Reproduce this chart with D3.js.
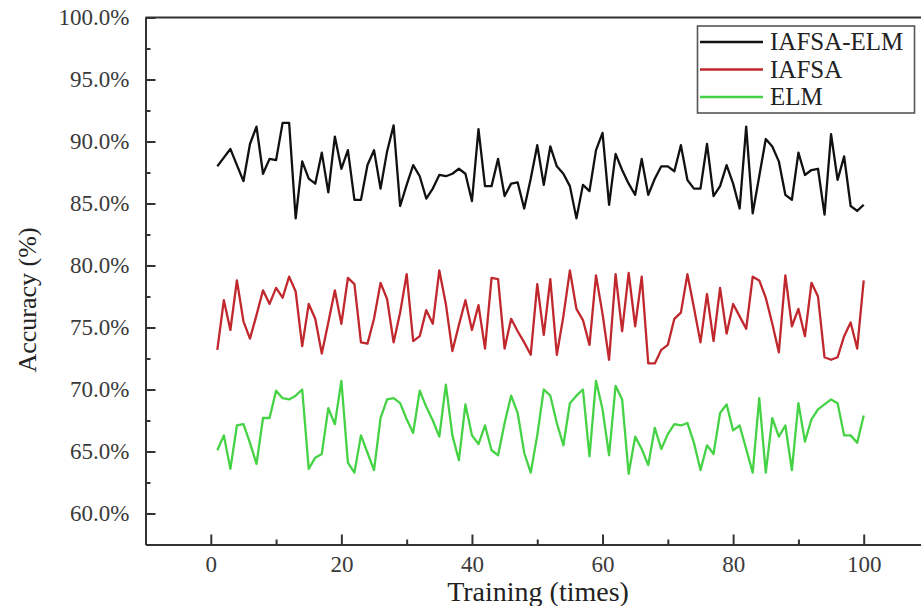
<!DOCTYPE html>
<html>
<head>
<meta charset="utf-8">
<script src="https://cdn.jsdelivr.net/npm/d3@7"></script>
<style>
  body { margin: 0; background: #fff; }
  svg { display: block; font-family: 'Liberation Serif', 'Times New Roman', serif; }
</style>
</head>
<body>
<svg id="chart" width="921" height="606"></svg>
<script>
// values, runs 1..100
const runs = d3.range(1, 101);

const iafsaElm = [
  88.0, 88.7, 89.4, 88.1, 86.8, 89.8, 91.2, 87.4, 88.6, 88.5,
  91.5, 91.5, 83.8, 88.4, 87.0, 86.6, 89.1, 85.9, 90.4, 87.8,
  89.3, 85.3, 85.3, 88.1, 89.3, 86.2, 89.2, 91.3, 84.8, 86.5,
  88.1, 87.2, 85.4, 86.2, 87.3, 87.2, 87.4, 87.8, 87.4, 85.2,
  91.0, 86.4, 86.4, 88.6, 85.6, 86.6, 86.7, 84.6, 87.0, 89.7,
  86.5, 89.6, 88.0, 87.4, 86.4, 83.8, 86.5, 86.0, 89.3, 90.7,
  84.9, 89.0, 87.7, 86.6, 85.7, 88.6, 85.7, 87.0, 88.0, 88.0,
  87.6, 89.7, 86.9, 86.2, 86.2, 89.8, 85.6, 86.4, 88.1, 86.6,
  84.6, 91.2, 84.2, 87.2, 90.2, 89.6, 88.4, 85.7, 85.3, 89.1,
  87.3, 87.7, 87.8, 84.1, 90.6, 86.9, 88.8, 84.8, 84.4, 84.9
];

const iafsa = [
  73.2, 77.2, 74.8, 78.8, 75.5, 74.1, 76.0, 78.0, 76.9, 78.2,
  77.4, 79.1, 77.9, 73.5, 76.9, 75.7, 72.9, 75.4, 78.0, 75.3,
  79.0, 78.5, 73.8, 73.7, 75.7, 78.6, 77.3, 73.8, 76.2, 79.3,
  73.9, 74.3, 76.4, 75.3, 79.6, 76.9, 73.1, 75.2, 77.2, 74.8,
  76.8, 73.3, 79.0, 78.9, 73.3, 75.7, 74.7, 73.8, 72.8, 78.5,
  74.4, 78.9, 72.8, 75.9, 79.6, 76.5, 75.6, 73.6, 79.2, 76.1,
  72.4, 79.3, 74.7, 79.4, 75.1, 79.1, 72.1, 72.1, 73.2, 73.6,
  75.7, 76.2, 79.3, 76.6, 73.8, 77.7, 73.9, 78.2, 74.5, 76.9,
  75.9, 74.9, 79.1, 78.8, 77.4, 75.3, 73.0, 79.2, 75.1, 76.5,
  74.3, 78.6, 77.5, 72.6, 72.4, 72.6, 74.3, 75.4, 73.3, 78.8
];

const elm = [
  65.1, 66.3, 63.6, 67.1, 67.2, 65.7, 64.0, 67.7, 67.7, 69.9,
  69.3, 69.2, 69.5, 70.0, 63.6, 64.5, 64.8, 68.5, 67.2, 70.7,
  64.1, 63.3, 66.3, 64.9, 63.5, 67.7, 69.2, 69.3, 68.9, 67.6,
  66.5, 69.9, 68.6, 67.5, 66.2, 70.4, 66.3, 64.3, 68.8, 66.3,
  65.6, 67.1, 65.1, 64.7, 67.3, 69.5, 68.1, 64.9, 63.3, 66.3,
  70.0, 69.5, 67.3, 65.5, 68.9, 69.5, 70.0, 64.6, 70.7, 68.4,
  64.7, 70.3, 69.2, 63.2, 66.2, 65.2, 63.9, 66.9, 65.2, 66.4,
  67.2, 67.1, 67.3, 65.7, 63.5, 65.5, 64.8, 68.1, 68.8, 66.7,
  67.1, 65.2, 63.3, 69.3, 63.3, 67.7, 66.2, 67.1, 63.5, 68.9,
  65.8, 67.6, 68.4, 68.8, 69.2, 68.9, 66.3, 66.3, 65.7, 67.9
];

const seriesNames = ['IAFSA-ELM', 'IAFSA', 'ELM'];
const seriesColors = ['#111111', '#c0282d', '#45d245'];
const xTicks = [0, 20, 40, 60, 80, 100];
const yTicks = [60, 65, 70, 75, 80, 85, 90, 95, 100];

const series = [iafsaElm, iafsa, elm].map((values, k) => ({
  name: seriesNames[k],
  color: seriesColors[k],
  values: values.map((v, i) => ({ x: runs[i], y: v }))
}));

const svg = d3.select('#chart');
const axisColor = '#333';

// plot frame runs past the right edge of the picture (x up to 110)
const x = d3.scaleLinear().domain([-10, 110]).range([145.5, 929]);
const y = d3.scaleLinear().domain([57.5, 100]).range([544.5, 17.5]);

const line = d3.line()
  .x((d) => x(d.x))
  .y((d) => y(d.y));

// data lines
svg.append('g')
  .attr('id', 'lines')
  .selectAll('path')
  .data(series)
  .join('path')
  .attr('fill', 'none')
  .attr('stroke', (d) => d.color)
  .attr('stroke-width', 2.3)
  .attr('stroke-linejoin', 'round')
  .attr('d', (d) => line(d.values));

// top frame line
svg.append('line')
  .attr('x1', x(-10)).attr('x2', x(110))
  .attr('y1', y(100)).attr('y2', y(100))
  .attr('stroke', axisColor)
  .attr('stroke-width', 2);

// minor ticks
svg.append('g')
  .attr('transform', `translate(0,${y(57.5)})`)
  .call(d3.axisBottom(x).tickValues([10, 30, 50, 70, 90]).tickSize(-5).tickFormat(''))
  .call((g) => g.select('.domain').remove())
  .call((g) => g.selectAll('line').attr('stroke', axisColor).attr('stroke-width', 2));

svg.append('g')
  .attr('transform', `translate(${x(-10)},0)`)
  .call(d3.axisLeft(y).tickValues([62.5, 67.5, 72.5, 77.5, 82.5, 87.5, 92.5, 97.5]).tickSize(-5).tickFormat(''))
  .call((g) => g.select('.domain').remove())
  .call((g) => g.selectAll('line').attr('stroke', axisColor).attr('stroke-width', 2));

// major axes
const xAxisG = svg.append('g')
  .attr('transform', `translate(0,${y(57.5)})`)
  .call(d3.axisBottom(x).tickValues(xTicks).tickSize(-10).tickPadding(11).tickSizeOuter(0));

const yAxisG = svg.append('g')
  .attr('transform', `translate(${x(-10)},0)`)
  .call(d3.axisLeft(y).tickValues(yTicks).tickSize(-10).tickPadding(16).tickSizeOuter(0)
    .tickFormat((d) => d.toFixed(1) + '%'));

[xAxisG, yAxisG].forEach((g) => {
  g.select('.domain').attr('stroke', axisColor).attr('stroke-width', 2);
  g.selectAll('.tick line').attr('stroke', axisColor).attr('stroke-width', 2);
  g.selectAll('.tick text')
    .attr('fill', '#3a3a3a')
    .style('font-family', "'Liberation Serif', serif")
    .style('font-size', '23px');
});

// axis titles
svg.append('text')
  .attr('x', 538)
  .attr('y', 601)
  .attr('text-anchor', 'middle')
  .attr('fill', '#222')
  .style('font-size', '28px')
  .text('Training (times)');

svg.append('text')
  .attr('transform', 'translate(36,300) rotate(-90)')
  .attr('text-anchor', 'middle')
  .attr('fill', '#222')
  .style('font-size', '26px')
  .text('Accuracy (%)');

// legend
const legendG = svg.append('g').attr('id', 'legend');

legendG.append('rect')
  .attr('x', 697.5)
  .attr('y', 26)
  .attr('width', 217)
  .attr('height', 87)
  .attr('fill', '#fff')
  .attr('stroke', '#555')
  .attr('stroke-width', 1.6);

const legendRows = legendG.selectAll('.legend-row')
  .data(series)
  .join('g')
  .attr('class', 'legend-row')
  .attr('transform', (d, i) => `translate(700,${42 + i * 27.5})`);

legendRows.append('line')
  .attr('x1', 0)
  .attr('x2', 63)
  .attr('stroke', (d) => d.color)
  .attr('stroke-width', 2.4);

legendRows.append('text')
  .attr('x', 70)
  .attr('y', 8)
  .attr('fill', '#222')
  .style('font-size', '25px')
  .text((d) => d.name);
</script>
</body>
</html>
